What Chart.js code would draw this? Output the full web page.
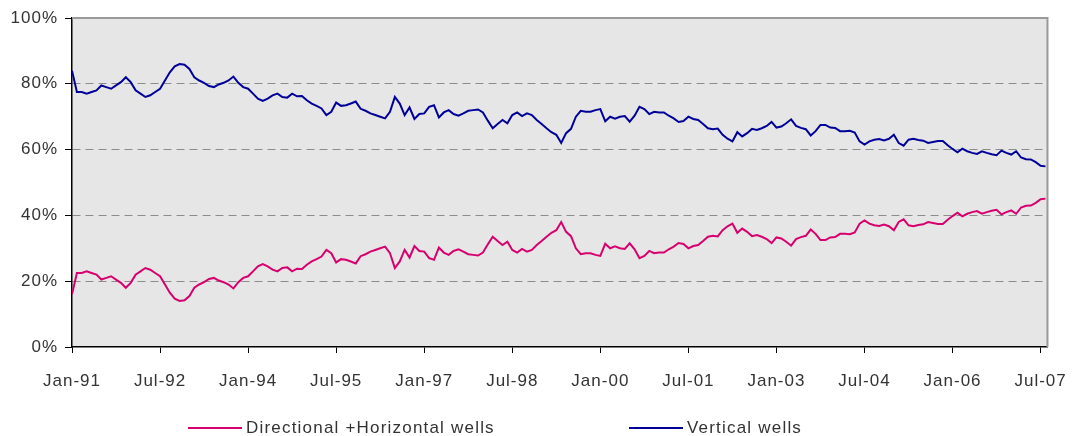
<!DOCTYPE html>
<html>
<head>
<meta charset="utf-8">
<script src="https://cdn.jsdelivr.net/npm/chart.js@4/dist/chart.umd.min.js"></script>
<style>
  html, body { margin: 0; padding: 0; background: #fff; }
  #wrap { position: relative; width: 1082px; height: 436px; }
  #legend { position: absolute; top: 418px; left: 0; width: 1082px; height: 20px;
            font-family: "Liberation Sans", Arial, sans-serif; font-size: 17px; color: #333; }
  .item { position: absolute; top: 0; white-space: nowrap; letter-spacing: 1.2px; }
  .swatch { display: inline-block; width: 54px; height: 2px; vertical-align: middle; margin-right: 4px; position: relative; top: -1px; }
</style>
</head>
<body>
<div id="wrap">
  <canvas id="myChart" width="1082" height="436"></canvas>
  <div id="legend">
    <span class="item" style="left:188px"><span class="swatch" style="background:#d6006e"></span>Directional +Horizontal wells</span>
    <span class="item" style="left:629px"><span class="swatch" style="background:#000099"></span>Vertical wells</span>
  </div>
</div>
<script>
// monthly readings, Jan-91 .. Aug-07
const verticalWells = [
  84, 77.5, 77.5, 77, 77.5, 78, 79.5, 79, 78.5, 79.5,
  80.5, 82, 80.5, 78, 77, 76, 76.5, 77.5, 78.5, 81,
  83.5, 85.3, 86, 85.8, 84.5, 82, 81, 80.3, 79.3, 79,
  79.8, 80.3, 81, 82.2, 80.3, 79, 78.5, 77, 75.5, 74.8,
  75.5, 76.5, 77, 76, 75.8, 77, 76.2, 76.3, 75, 74,
  73.3, 72.5, 70.5, 71.5, 74.3, 73.3, 73.5, 74, 74.6, 72.4,
  71.8, 71, 70.5, 70, 69.5, 71.5, 76, 74, 70.5, 72.8,
  69.3, 70.8, 71, 73, 73.5, 69.8, 71.3, 72, 70.8, 70.3,
  71, 71.8, 72, 72.2, 71.3, 68.8, 66.5, 67.8, 69, 68,
  70.5, 71.3, 70.2, 71, 70.5, 69, 67.8, 66.5, 65.3, 64.5,
  62, 65, 66.3, 70, 71.8, 71.5, 71.5, 72, 72.3, 68.6,
  70, 69.4, 70, 70.2, 68.5, 70.3, 73, 72.3, 70.8, 71.5,
  71.3, 71.3, 70.3, 69.5, 68.4, 68.7, 70, 69.3, 69, 67.8,
  66.5, 66.2, 66.4, 64.5, 63.3, 62.5, 65.3, 64, 65, 66.3,
  66, 66.5, 67.2, 68.4, 66.7, 67, 68, 69.2, 67.2, 66.6,
  66.2, 64.3, 65.6, 67.5, 67.5, 66.7, 66.6, 65.6, 65.6, 65.7,
  65.2, 62.5, 61.5, 62.5, 63, 63.2, 62.8, 63.3, 64.5, 62,
  61.2, 63, 63.3, 62.9, 62.7, 62, 62.3, 62.6, 62.6, 61.3,
  60.2, 59.2, 60.3, 59.5, 59, 58.7, 59.5, 59, 58.6, 58.3,
  59.7, 59, 58.5, 59.5, 57.6, 57.1, 57, 56.2, 55.1, 54.9
];
const directionalWells = [
  16, 22.5, 22.5, 23, 22.5, 22, 20.5, 21, 21.5, 20.5,
  19.5, 18, 19.5, 22, 23, 24, 23.5, 22.5, 21.5, 19,
  16.5, 14.7, 14, 14.2, 15.5, 18, 19, 19.7, 20.7, 21,
  20.2, 19.7, 19, 17.8, 19.7, 21, 21.5, 23, 24.5, 25.2,
  24.5, 23.5, 23, 24, 24.2, 23, 23.8, 23.7, 25, 26,
  26.7, 27.5, 29.5, 28.5, 25.7, 26.7, 26.5, 26, 25.4, 27.6,
  28.2, 29, 29.5, 30, 30.5, 28.5, 24, 26, 29.5, 27.2,
  30.7, 29.2, 29, 27, 26.5, 30.2, 28.7, 28, 29.2, 29.7,
  29, 28.2, 28, 27.8, 28.7, 31.2, 33.5, 32.2, 31, 32,
  29.5, 28.7, 29.8, 29, 29.5, 31, 32.2, 33.5, 34.7, 35.5,
  38, 35, 33.7, 30, 28.2, 28.5, 28.5, 28, 27.7, 31.4,
  30, 30.6, 30, 29.8, 31.5, 29.7, 27, 27.7, 29.2, 28.5,
  28.7, 28.7, 29.7, 30.5, 31.6, 31.3, 30, 30.7, 31, 32.2,
  33.5, 33.8, 33.6, 35.5, 36.7, 37.5, 34.7, 36, 35, 33.7,
  34, 33.5, 32.8, 31.6, 33.3, 33, 32, 30.8, 32.8, 33.4,
  33.8, 35.7, 34.4, 32.5, 32.5, 33.3, 33.4, 34.4, 34.4, 34.3,
  34.8, 37.5, 38.5, 37.5, 37, 36.8, 37.2, 36.7, 35.5, 38,
  38.8, 37, 36.7, 37.1, 37.3, 38, 37.7, 37.4, 37.4, 38.7,
  39.8, 40.8, 39.7, 40.5, 41, 41.3, 40.5, 41, 41.4, 41.7,
  40.3, 41, 41.5, 40.5, 42.4, 42.9, 43, 43.8, 44.9, 45.1
];
const tickLabels = ['Jan-91', 'Jul-92', 'Jan-94', 'Jul-95', 'Jan-97', 'Jul-98',
                    'Jan-00', 'Jul-01', 'Jan-03', 'Jul-04', 'Jan-06', 'Jul-07'];
const yTicks = [0, 20, 40, 60, 80, 100];

const FONT = { family: '"Liberation Sans", Arial, sans-serif', size: 17 };

// plot background and grey top/right frame
const plotFrame = {
  id: 'plotFrame',
  beforeLayout(chart) {
    chart.ctx.letterSpacing = '0px';
  },
  beforeDraw(chart) {
    const { ctx, chartArea: a } = chart;
    ctx.letterSpacing = '1px';
    ctx.save();
    ctx.fillStyle = '#e6e6e6';
    ctx.fillRect(a.left, a.top, a.right - a.left, a.bottom - a.top);
    ctx.restore();
  },
  afterDatasetsDraw(chart) {
    const { ctx, chartArea: a } = chart;
    ctx.save();
    ctx.strokeStyle = '#999';
    ctx.lineWidth = 2;
    ctx.beginPath();
    ctx.moveTo(a.left, a.top);
    ctx.lineTo(a.right, a.top);
    ctx.lineTo(a.right, a.bottom);
    ctx.stroke();
    ctx.restore();
  },
  afterDraw(chart) {
    chart.ctx.letterSpacing = '0px';
  }
};

const ctx = document.getElementById('myChart');
new Chart(ctx, {
  type: 'line',
  data: {
    datasets: [
      {
        label: 'Directional +Horizontal wells',
        data: directionalWells.map((v, i) => ({ x: i, y: v })),
        borderColor: '#d6006e',
        borderWidth: 2,
        pointRadius: 0,
        tension: 0
      },
      {
        label: 'Vertical wells',
        data: verticalWells.map((v, i) => ({ x: i, y: v })),
        borderColor: '#000099',
        borderWidth: 2,
        pointRadius: 0,
        tension: 0
      }
    ]
  },
  options: {
    responsive: false,
    animation: false,
    layout: { padding: { top: 18, right: 32, left: 0, bottom: 0 } },
    plugins: { legend: { display: false }, tooltip: { enabled: false } },
    scales: {
      x: {
        type: 'linear',
        min: 0,
        max: 199.4,
        afterBuildTicks: scale => { scale.ticks = tickLabels.map((t, i) => ({ value: i * 18 })); },
        afterFit: scale => { scale.height = 89; },
        ticks: {
          autoSkip: false,
          maxRotation: 0,
          padding: 18,
          color: '#333',
          font: FONT,
          callback: (value, index) => tickLabels[index]
        },
        grid: { drawOnChartArea: false, drawTicks: true, tickLength: 6, tickColor: '#000' },
        border: { color: '#000', width: 1.5 }
      },
      y: {
        min: 0,
        max: 100,
        afterBuildTicks: scale => { scale.ticks = yTicks.map(v => ({ value: v })); },
        afterFit: scale => { scale.width = 72; },
        ticks: {
          padding: 7,
          color: '#333',
          font: FONT,
          callback: value => value + '%'
        },
        grid: {
          color: c => (c.tick && (c.tick.value === 0 || c.tick.value === 100)) ? 'rgba(0,0,0,0)' : '#8c8c8c',
          lineWidth: 1,
          tickLength: 7,
          tickColor: '#000',
          tickBorderDash: []
        },
        border: { color: '#000', width: 1.5, dash: [8, 5] }
      }
    }
  },
  plugins: [plotFrame]
});
</script>
</body>
</html>
